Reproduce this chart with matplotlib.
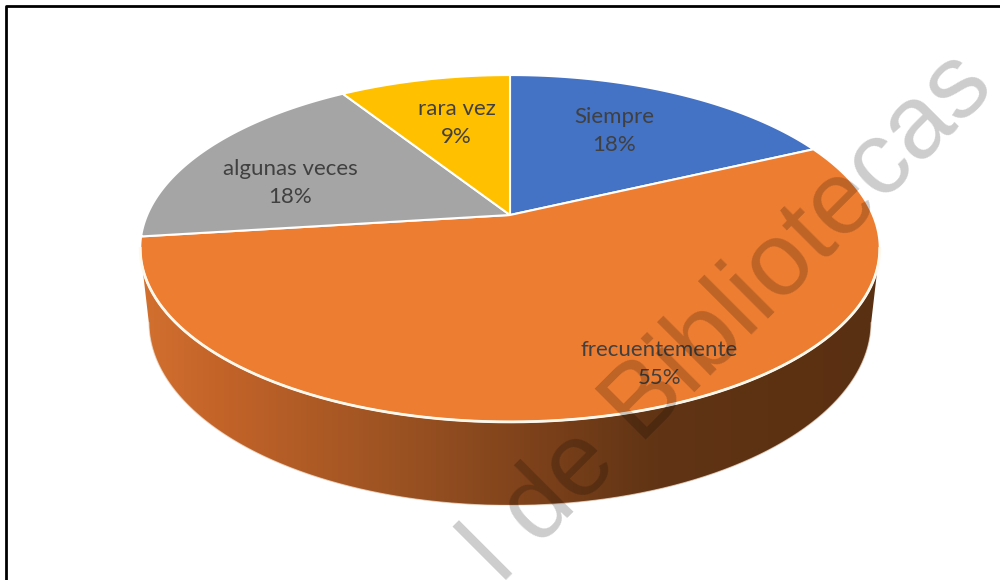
import numpy as np
import matplotlib.pyplot as plt
from matplotlib.colors import LinearSegmentedColormap
from matplotlib.patches import Polygon

# datos del gráfico
categorias = ['Siempre', 'frecuentemente', 'algunas veces', 'rara vez']
porcentajes = [18, 55, 18, 9]
colores = ['#4472C4', '#ED7D31', '#A5A5A5', '#FFC000']

# ajuste fino de las etiquetas (radio y giro respecto al centro del sector)
etiqueta_r = [0.64, 0.84, 0.66, 0.64]
etiqueta_giro = [-2.7, -8.5, -7.7, 1.3]

# cámara en perspectiva para el pastel 3D
CX, CY = 510, 215
F = 1669
D = 4.6
ELEV = np.radians(27.4)
ALTO = 0.23


def proyectar(theta, r=1.0, z=0.0):
    # theta en grados, sentido horario desde el punto del fondo
    t = np.radians(theta)
    x = r * np.sin(t)
    y = r * np.cos(t)
    s, c = np.sin(ELEV), np.cos(ELEV)
    arriba = y * s + z * c
    prof = D + y * c - z * s
    return CX + F * x / prof, CY - F * arriba / prof


fig = plt.figure(figsize=(10, 5.8), dpi=100)
ax = fig.add_axes([0, 0, 1, 1])
ax.set_xlim(0, 1000)
ax.set_ylim(580, 0)
ax.axis('off')

# ángulos de cada sector
limites = np.concatenate([[0], np.cumsum(porcentajes)]) / sum(porcentajes) * 360

# contorno lateral visible (entre las dos siluetas)
t = np.linspace(0, 360, 3601)
xs, _ = proyectar(t)
der = t[(t > 0) & (t < 180)][np.argmax(xs[(t > 0) & (t < 180)])]
izq = t[(t > 180) & (t < 360)][np.argmin(xs[(t > 180) & (t < 360)])]

cmap_lado = LinearSegmentedColormap.from_list('lado', [
    (0.0, '#D2702F'), (0.1, '#C46429'), (0.35, '#9B5222'),
    (0.55, '#7A401A'), (0.7, '#603414'), (1.0, '#5A3012')])

for i in range(len(porcentajes)):
    a0, a1 = max(limites[i], der), min(limites[i + 1], izq)
    if a1 <= a0:
        continue
    tt = np.linspace(a0, a1, 300)
    xa, ya = proyectar(tt)
    xb, yb = proyectar(tt[::-1], z=-ALTO)
    pts = np.column_stack([np.r_[xa, xb], np.r_[ya, yb]])
    lado = Polygon(pts, closed=True, facecolor='none', edgecolor='none')
    ax.add_patch(lado)
    x0, x1 = pts[:, 0].min(), pts[:, 0].max()
    y0, y1 = pts[:, 1].min(), pts[:, 1].max()
    grad = np.linspace(0, 1, 256)[None, :]
    im = ax.imshow(grad, cmap=cmap_lado, aspect='auto',
                   extent=[x0, x1, y1, y0], zorder=1)
    im.set_clip_path(lado)
    ax.plot(xb, yb, color='#F3E2D2', lw=0.8, alpha=0.7, zorder=2)

# caras superiores
for i, col in enumerate(colores):
    tt = np.linspace(limites[i], limites[i + 1], 300)
    xa, ya = proyectar(tt)
    pts = np.column_stack([np.r_[CX, xa], np.r_[CY, ya]])
    ax.add_patch(Polygon(pts, closed=True, facecolor=col,
                         edgecolor='white', lw=1.5, zorder=3))

# borde claro del frente
tt = np.linspace(der, izq, 400)
xa, ya = proyectar(tt)
ax.plot(xa, ya, color='#FFF8EC', lw=2, zorder=4)

# etiquetas
for i, cat in enumerate(categorias):
    medio = (limites[i] + limites[i + 1]) / 2 + etiqueta_giro[i]
    lx, ly = proyectar(medio, etiqueta_r[i])
    ax.text(lx, ly, f'{cat}\n{porcentajes[i]}%', ha='center', va='center',
            fontsize=16, family='Lato', color='#404040', linespacing=1.5,
            zorder=5)

# marco
ax.plot([6, 6, 1000], [580, 6, 6], color='black', lw=2, zorder=6,
        solid_capstyle='butt')

# marca de agua
ax.text(996, 89, 'l de Bibliotecas', rotation=45,
        rotation_mode='anchor', ha='right', va='baseline', fontsize=75,
        family='Liberation Sans', color='black', alpha=0.2, zorder=10)

fig.savefig('out.png', dpi=100)
